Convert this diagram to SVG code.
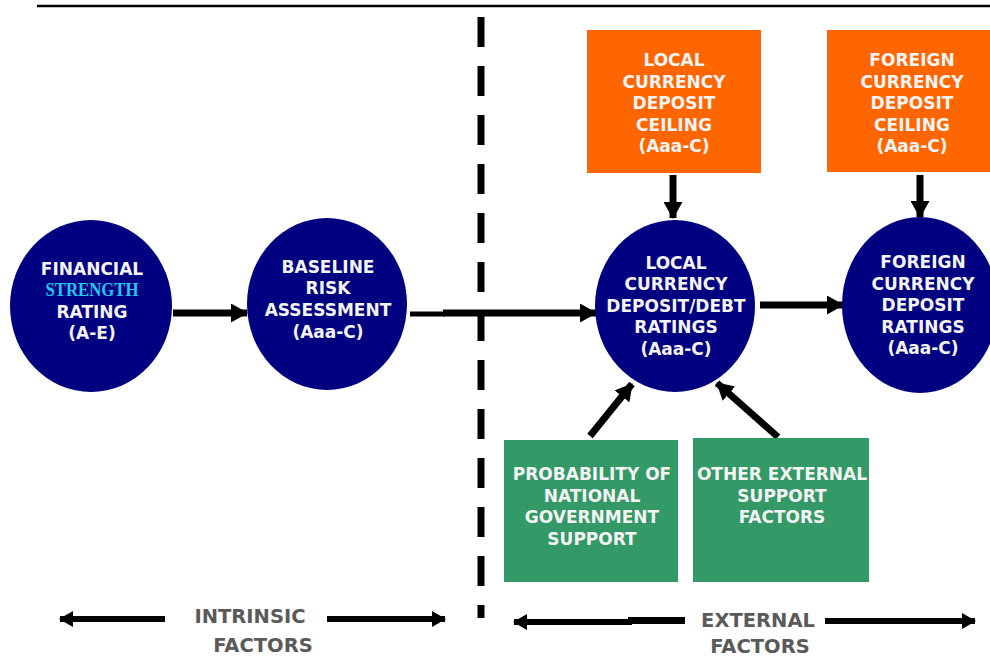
<svg xmlns="http://www.w3.org/2000/svg" width="990" height="658" viewBox="0 0 990 658">
  <style>
    .circ { fill: #000080; }
    .ceil { fill: #ff6600; }
    .supp { fill: #339966; }
    .lbl { font-family: "DejaVu Sans", Verdana, sans-serif; font-weight: bold; font-size: 17px; fill: #f4f4f4; text-anchor: middle; }
    .hi { font-family: "Liberation Serif", "Times New Roman", serif; font-size: 19px; fill: #22c8f0; }
    .band { font-family: "DejaVu Sans", Verdana, sans-serif; font-weight: bold; font-size: 19.5px; fill: #5a5a5a; text-anchor: middle; }
    .conn { stroke: #000; stroke-width: 7; fill: none; }
    .span { stroke: #000; stroke-width: 6; fill: none; }
  </style>
  <defs>
    <marker id="head" markerUnits="userSpaceOnUse" markerWidth="17" markerHeight="19" refX="16" refY="9.5" orient="auto">
      <path d="M0,0 L17,9.5 L0,19 z" fill="#000"/>
    </marker>
    <marker id="tip" markerUnits="userSpaceOnUse" markerWidth="14" markerHeight="16" refX="13" refY="8" orient="auto-start-reverse">
      <path d="M0,0 L14,8 L0,16 z" fill="#000"/>
    </marker>
  </defs>

  <rect width="990" height="658" fill="#fff"/>

  <!-- header rule -->
  <line x1="37" y1="6" x2="990" y2="6" stroke="#000" stroke-width="2.5"/>

  <!-- divider between intrinsic and external factors -->
  <line x1="481" y1="17" x2="481" y2="618" stroke="#000" stroke-width="7" stroke-dasharray="30 19"/>

  <g id="connectors">
    <line class="conn" x1="173" y1="313" x2="247" y2="313" marker-end="url(#head)"/>
    <line stroke="#000" stroke-width="5" x1="410" y1="314" x2="445" y2="314"/>
    <line class="conn" x1="443" y1="313" x2="596" y2="313" marker-end="url(#head)"/>
    <line class="conn" x1="760" y1="305" x2="843" y2="305" marker-end="url(#head)"/>
    <line class="conn" x1="673" y1="175" x2="673" y2="218" marker-end="url(#head)"/>
    <line class="conn" x1="920" y1="175" x2="920" y2="217" marker-end="url(#head)"/>
    <line class="conn" x1="590" y1="436" x2="632" y2="384" marker-end="url(#head)"/>
    <line class="conn" x1="778" y1="437" x2="717" y2="383" marker-end="url(#head)"/>
  </g>

  <g id="financial-strength">
    <ellipse class="circ" cx="91" cy="306" rx="81" ry="86"/>
    <text class="lbl" x="92" y="275">FINANCIAL</text>
    <text class="lbl hi" x="92" y="296" textLength="93" lengthAdjust="spacingAndGlyphs">STRENGTH</text>
    <text class="lbl" x="92" y="318">RATING</text>
    <text class="lbl" x="92" y="339">(A-E)</text>
  </g>

  <g id="baseline-risk">
    <ellipse class="circ" cx="327" cy="304" rx="80" ry="86"/>
    <text class="lbl" x="328" y="273">BASELINE</text>
    <text class="lbl" x="328" y="294">RISK</text>
    <text class="lbl" x="328" y="316">ASSESSMENT</text>
    <text class="lbl" x="328" y="338">(Aaa-C)</text>
  </g>

  <g id="local-ratings">
    <ellipse class="circ" cx="675" cy="306" rx="80" ry="86"/>
    <text class="lbl" x="676" y="269">LOCAL</text>
    <text class="lbl" x="676" y="290">CURRENCY</text>
    <text class="lbl" x="676" y="312">DEPOSIT/DEBT</text>
    <text class="lbl" x="676" y="333">RATINGS</text>
    <text class="lbl" x="676" y="355">(Aaa-C)</text>
  </g>

  <g id="foreign-ratings">
    <ellipse class="circ" cx="920" cy="305" rx="78" ry="88"/>
    <text class="lbl" x="923" y="268">FOREIGN</text>
    <text class="lbl" x="923" y="290">CURRENCY</text>
    <text class="lbl" x="923" y="311">DEPOSIT</text>
    <text class="lbl" x="923" y="333">RATINGS</text>
    <text class="lbl" x="923" y="354">(Aaa-C)</text>
  </g>

  <g id="local-ceiling">
    <rect class="ceil" x="587" y="30" width="174" height="143"/>
    <text class="lbl" x="674" y="66">LOCAL</text>
    <text class="lbl" x="674" y="87.5">CURRENCY</text>
    <text class="lbl" x="674" y="109">DEPOSIT</text>
    <text class="lbl" x="674" y="130.5">CEILING</text>
    <text class="lbl" x="674" y="152">(Aaa-C)</text>
  </g>

  <g id="foreign-ceiling">
    <rect class="ceil" x="827" y="30" width="170" height="142"/>
    <text class="lbl" x="912" y="66">FOREIGN</text>
    <text class="lbl" x="912" y="87.5">CURRENCY</text>
    <text class="lbl" x="912" y="109">DEPOSIT</text>
    <text class="lbl" x="912" y="130.5">CEILING</text>
    <text class="lbl" x="912" y="152">(Aaa-C)</text>
  </g>

  <g id="government-support">
    <rect class="supp" x="504" y="440" width="174" height="142"/>
    <text class="lbl" x="592" y="480">PROBABILITY OF</text>
    <text class="lbl" x="592" y="502">NATIONAL</text>
    <text class="lbl" x="592" y="523">GOVERNMENT</text>
    <text class="lbl" x="592" y="545">SUPPORT</text>
  </g>

  <g id="other-support">
    <rect class="supp" x="693" y="438" width="176" height="144"/>
    <text class="lbl" x="782" y="480">OTHER EXTERNAL</text>
    <text class="lbl" x="782" y="502">SUPPORT</text>
    <text class="lbl" x="782" y="523">FACTORS</text>
  </g>

  <g id="intrinsic-band">
    <line class="span" x1="165" y1="619" x2="60" y2="619" marker-end="url(#tip)"/>
    <line class="span" x1="327" y1="619" x2="445" y2="619" marker-end="url(#tip)"/>
    <text class="band" x="250" y="623">INTRINSIC</text>
    <text class="band" x="263" y="652">FACTORS</text>
  </g>

  <g id="external-band">
    <line class="span" x1="632" y1="622" x2="514" y2="622" marker-end="url(#tip)"/>
    <line stroke="#000" stroke-width="7" x1="628" y1="620.5" x2="685" y2="620.5"/>
    <line class="span" x1="825" y1="621" x2="975" y2="621" marker-end="url(#tip)"/>
    <text class="band" x="758" y="627">EXTERNAL</text>
    <text class="band" x="760" y="653">FACTORS</text>
  </g>
</svg>
